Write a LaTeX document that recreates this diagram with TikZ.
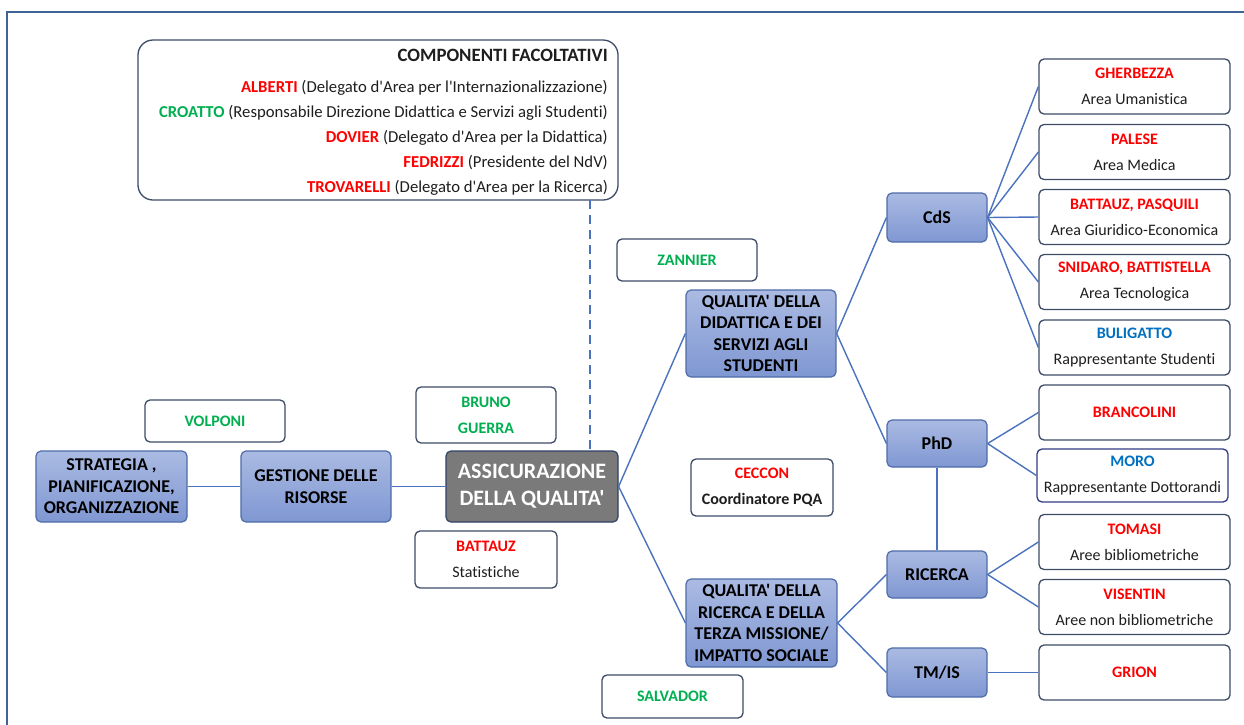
\documentclass[tikz,border=0pt]{standalone}
\usepackage{fontspec}
\setmainfont{Carlito}[Ligatures={TeXOff,CommonOff}]
\definecolor{lineC}{HTML}{4A72BE}
\definecolor{bordB}{HTML}{4E6CA8}
\definecolor{blueT}{HTML}{AABAE2}
\definecolor{blueB}{HTML}{7F97D2}
\definecolor{bordW}{HTML}{3E4C68}
\definecolor{frameC}{HTML}{3F6396}
\definecolor{redT}{HTML}{FF0000}
\definecolor{greenT}{HTML}{00B050}
\definecolor{blueN}{HTML}{0070C0}
\definecolor{grayF}{HTML}{7A7A7A}
\definecolor{txt}{HTML}{1E1E1E}
\tikzset{
  bluebox/.style={draw=bordB, line width=1.2pt, top color=blueT, bottom color=blueB,
    rounded corners=5pt, align=center, inner sep=2pt, text=black,
    font=\bfseries\fontsize{18}{21.5}\selectfont},
  graybox/.style={draw=bordB!60!black, line width=1.2pt, fill=grayF,
    rounded corners=5pt, align=center, inner sep=2pt, text=white,
    font=\bfseries\fontsize{22}{27}\selectfont},
  wbox/.style={draw=bordW, line width=1.3pt, fill=white, rounded corners=5pt,
    align=center, inner sep=2pt, text=txt, font=\fontsize{16}{26}\selectfont},
  conn/.style={draw=lineC, line width=1.4pt},
}
\newcommand{\rd}[1]{{\color{redT}\bfseries #1}}
\newcommand{\gr}[1]{{\color{greenT}\bfseries #1}}
\newcommand{\bl}[1]{{\color{blueN}\bfseries #1}}
\begin{document}
\begin{tikzpicture}[x=1pt,y=-1pt]
\useasboundingbox (0,0) rectangle (1244,724);
\fill[white] (0,0) rectangle (1244,724);
% outer frame
\coordinate (fbl) at (7,726);
\coordinate (ftl) at (7,12);
\coordinate (ftr) at (1250,12);
\draw[frameC, line width=2pt] (fbl) -- (ftl) -- (ftr);

% componenti facoltativi
\node[draw=bordW, line width=1.3pt, rounded corners=15pt, fill=white,
      minimum width=480pt, minimum height=160pt, inner sep=0pt] (comp) at (378,120) {};
\node[anchor=north east, align=right, text=txt, inner sep=0pt,
      font=\fontsize{16.7}{25}\selectfont] (comptxt) at (608,49)
 {{\bfseries\fontsize{18.8}{25}\selectfont COMPONENTI FACOLTATIVI}\\[6pt]
  \rd{ALBERTI} (Delegato d'Area per l'Internazionalizzazione)\\
  \gr{CROATTO} (Responsabile Direzione Didattica e Servizi agli Studenti)\\
  \rd{DOVIER} (Delegato d'Area per la Didattica)\\
  \rd{FEDRIZZI} (Presidente del NdV)\\
  \rd{TROVARELLI} (Delegato d'Area per la Ricerca)};

% left part
\node[wbox, minimum width=140pt, minimum height=42pt] (volponi) at (215,421) {\gr{VOLPONI}};
\node[wbox, minimum width=140pt, minimum height=56pt] (bruno) at (486,415) {\gr{BRUNO}\\\gr{GUERRA}};
\node[bluebox, minimum width=151pt, minimum height=71pt] (strat) at (111.5,486.5) {STRATEGIA ,\\PIANIFICAZIONE,\\ORGANIZZAZIONE};
\node[bluebox, minimum width=150pt, minimum height=71pt] (gest) at (316,486.5) {GESTIONE DELLE\\RISORSE};
\node[graybox, minimum width=172pt, minimum height=71pt] (assic) at (532,486.5) {ASSICURAZIONE\\DELLA QUALITA'};
\node[wbox, minimum width=142pt, minimum height=57pt] (battst) at (486,559.5) {\rd{BATTAUZ}\\Statistiche};

% middle
\node[wbox, minimum width=140pt, minimum height=42pt] (zannier) at (687,260) {\gr{ZANNIER}};
\node[bluebox, minimum width=150pt, minimum height=87pt] (qdid) at (761,333.5) {QUALITA' DELLA\\DIDATTICA E DEI\\SERVIZI AGLI\\STUDENTI};
\node[wbox, minimum width=142pt, minimum height=57pt] (ceccon) at (762,487.5) {\rd{CECCON}\\{\bfseries Coordinatore PQA}};
\node[bluebox, minimum width=151pt, minimum height=88pt] (qric) at (761.5,623) {QUALITA' DELLA\\RICERCA E DELLA\\TERZA MISSIONE/\\IMPATTO SOCIALE};
\node[wbox, minimum width=141pt, minimum height=43pt] (salvador) at (672.5,696.5) {\gr{SALVADOR}};

% second level
\node[bluebox, minimum width=100pt, minimum height=49pt] (cds) at (937,217.5) {CdS};
\node[bluebox, minimum width=100pt, minimum height=47pt] (phd) at (937,443.5) {PhD};
\node[bluebox, minimum width=100pt, minimum height=47pt] (ricerca) at (937,574.5) {RICERCA};
\node[bluebox, minimum width=100pt, minimum height=49pt] (tmis) at (937,672.5) {TM/IS};

% right column
\node[wbox, minimum width=191pt, minimum height=55pt] (gher) at (1134.5,86.5) {\rd{GHERBEZZA}\\Area Umanistica};
\node[wbox, minimum width=191pt, minimum height=55pt] (palese) at (1134.5,152) {\rd{PALESE}\\Area Medica};
\node[wbox, minimum width=191pt, minimum height=55pt] (battpas) at (1134.5,217) {\rd{BATTAUZ, PASQUILI}\\Area Giuridico-Economica};
\node[wbox, minimum width=191pt, minimum height=55pt] (snid) at (1134.5,282) {\rd{SNIDARO, BATTISTELLA}\\Area Tecnologica};
\node[wbox, minimum width=191pt, minimum height=55pt] (bulig) at (1134.5,347.5) {\bl{BULIGATTO}\\Rappresentante Studenti};
\node[wbox, minimum width=191pt, minimum height=55pt] (branc) at (1134.5,412.5) {\rd{BRANCOLINI}};
\node[wbox, draw=bordW!80!blue, minimum width=191pt, minimum height=53pt] (moro) at (1132.5,475.5) {\bl{MORO}\\Rappresentante Dottorandi};
\node[wbox, minimum width=191pt, minimum height=55pt] (tomasi) at (1134.5,542) {\rd{TOMASI}\\Aree bibliometriche};
\node[wbox, minimum width=191pt, minimum height=55pt] (visentin) at (1134.5,607) {\rd{VISENTIN}\\Aree non bibliometriche};
\node[wbox, minimum width=191pt, minimum height=55pt] (grion) at (1134.5,672.5) {\rd{GRION}};

% connectors
\coordinate (dtop) at (590,200);
\draw[conn, dash pattern=on 9pt off 6pt] (dtop) -- (dtop |- assic.north);
\draw[conn] (strat.east) -- (gest.west);
\draw[conn] (gest.east) -- (assic.west);
\draw[conn] (assic.east) -- (qdid.west);
\draw[conn] (assic.east) -- (qric.west);
\draw[conn] (qdid.east) -- (cds.west);
\draw[conn] (qdid.east) -- (phd.west);
\draw[conn] (qric.east) -- (ricerca.west);
\draw[conn] (qric.east) -- (tmis.west);
\draw[conn] (phd.south) -- (ricerca.north);
\foreach \t in {gher,palese,battpas,snid,bulig}{\draw[conn] (cds.east) -- (\t.west);}
\draw[conn] (phd.east) -- (branc.west);
\draw[conn] (phd.east) -- (moro.west);
\draw[conn] (ricerca.east) -- (tomasi.west);
\draw[conn] (ricerca.east) -- (visentin.west);
\draw[conn] (tmis.east) -- (grion.west);
\end{tikzpicture}
\end{document}
